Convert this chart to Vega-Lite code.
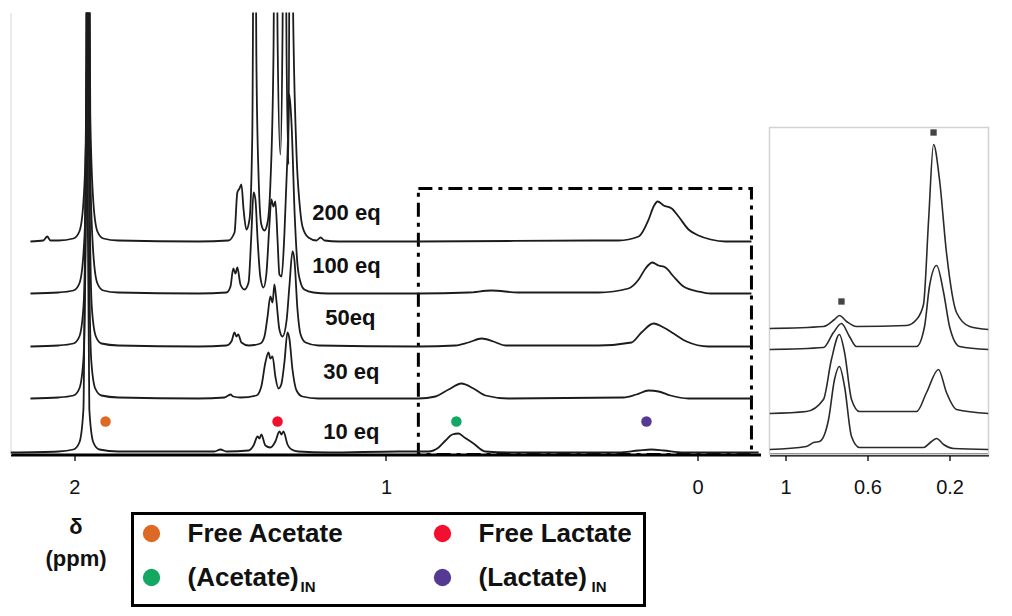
{
  "$schema": "https://vega.github.io/schema/vega-lite/v6.json",
  "padding": {"left": 10.5, "top": 12.5, "right": 5, "bottom": 5},
  "background": "white",
  "config": {
    "view": {"stroke": null},
    "font": "Liberation Sans",
    "axis": {"grid": false, "title": null}
  },
  "datasets": {
    "spectra": [
      {"s":"10","x":2.205,"y":2},{"s":"10","x":2.051,"y":3},{"s":"10","x":2.003,"y":5},{"s":"10","x":1.984,"y":12},{"s":"10","x":1.971,"y":45},{"s":"10","x":1.961,"y":383},{"s":"10","x":1.952,"y":45},{"s":"10","x":1.939,"y":12},{"s":"10","x":1.920,"y":5},{"s":"10","x":1.859,"y":3},{"s":"10","x":1.602,"y":3},{"s":"10","x":1.551,"y":3},{"s":"10","x":1.531,"y":5},{"s":"10","x":1.512,"y":3},{"s":"10","x":1.441,"y":4},{"s":"10","x":1.425,"y":9},{"s":"10","x":1.412,"y":18},{"s":"10","x":1.406,"y":16},{"s":"10","x":1.400,"y":20},{"s":"10","x":1.387,"y":9},{"s":"10","x":1.371,"y":7},{"s":"10","x":1.355,"y":13},{"s":"10","x":1.342,"y":23},{"s":"10","x":1.335,"y":20},{"s":"10","x":1.329,"y":23},{"s":"10","x":1.316,"y":10},{"s":"10","x":1.303,"y":5},{"s":"10","x":1.281,"y":3},{"s":"10","x":1.185,"y":2},{"s":"10","x":0.960,"y":3},{"s":"10","x":0.864,"y":3},{"s":"10","x":0.831,"y":7},{"s":"10","x":0.809,"y":14},{"s":"10","x":0.787,"y":20},{"s":"10","x":0.767,"y":21},{"s":"10","x":0.748,"y":17},{"s":"10","x":0.719,"y":11},{"s":"10","x":0.681,"y":3},{"s":"10","x":0.607,"y":2},{"s":"10","x":0.254,"y":2},{"s":"10","x":0.189,"y":4},{"s":"10","x":0.148,"y":5},{"s":"10","x":0.109,"y":4},{"s":"10","x":0.045,"y":2},{"s":"10","x":-0.196,"y":2},

      {"s":"30","x":2.141,"y":56},{"s":"30","x":2.051,"y":57},{"s":"30","x":2.003,"y":59},{"s":"30","x":1.984,"y":66},{"s":"30","x":1.971,"y":95},{"s":"30","x":1.965,"y":180},{"s":"30","x":1.958,"y":700},{"s":"30","x":1.952,"y":180},{"s":"30","x":1.946,"y":95},{"s":"30","x":1.933,"y":66},{"s":"30","x":1.913,"y":59},{"s":"30","x":1.859,"y":57},{"s":"30","x":1.602,"y":56},{"s":"30","x":1.518,"y":57},{"s":"30","x":1.506,"y":59},{"s":"30","x":1.499,"y":60},{"s":"30","x":1.490,"y":58},{"s":"30","x":1.467,"y":57},{"s":"30","x":1.416,"y":59},{"s":"30","x":1.400,"y":68},{"s":"30","x":1.387,"y":92},{"s":"30","x":1.377,"y":102},{"s":"30","x":1.371,"y":96},{"s":"30","x":1.364,"y":98},{"s":"30","x":1.355,"y":78},{"s":"30","x":1.345,"y":66},{"s":"30","x":1.336,"y":70},{"s":"30","x":1.326,"y":92},{"s":"30","x":1.316,"y":122},{"s":"30","x":1.310,"y":116},{"s":"30","x":1.300,"y":85},{"s":"30","x":1.287,"y":64},{"s":"30","x":1.268,"y":58},{"s":"30","x":1.217,"y":56},{"s":"30","x":0.896,"y":56},{"s":"30","x":0.841,"y":58},{"s":"30","x":0.799,"y":65},{"s":"30","x":0.758,"y":71},{"s":"30","x":0.719,"y":66},{"s":"30","x":0.681,"y":59},{"s":"30","x":0.607,"y":56},{"s":"30","x":0.238,"y":57},{"s":"30","x":0.196,"y":60},{"s":"30","x":0.157,"y":64},{"s":"30","x":0.125,"y":63},{"s":"30","x":0.087,"y":59},{"s":"30","x":0.029,"y":56},{"s":"30","x":-0.173,"y":56},

      {"s":"50","x":2.141,"y":108},{"s":"50","x":2.051,"y":109},{"s":"50","x":2.003,"y":111},{"s":"50","x":1.984,"y":118},{"s":"50","x":1.971,"y":147},{"s":"50","x":1.963,"y":232},{"s":"50","x":1.957,"y":700},{"s":"50","x":1.950,"y":232},{"s":"50","x":1.944,"y":147},{"s":"50","x":1.931,"y":118},{"s":"50","x":1.913,"y":111},{"s":"50","x":1.859,"y":109},{"s":"50","x":1.602,"y":108},{"s":"50","x":1.512,"y":109},{"s":"50","x":1.496,"y":113},{"s":"50","x":1.486,"y":122},{"s":"50","x":1.480,"y":118},{"s":"50","x":1.474,"y":120},{"s":"50","x":1.464,"y":112},{"s":"50","x":1.441,"y":109},{"s":"50","x":1.403,"y":111},{"s":"50","x":1.390,"y":118},{"s":"50","x":1.380,"y":138},{"s":"50","x":1.371,"y":158},{"s":"50","x":1.364,"y":152},{"s":"50","x":1.358,"y":170},{"s":"50","x":1.352,"y":155},{"s":"50","x":1.342,"y":125},{"s":"50","x":1.332,"y":118},{"s":"50","x":1.319,"y":134},{"s":"50","x":1.310,"y":168},{"s":"50","x":1.300,"y":203},{"s":"50","x":1.294,"y":195},{"s":"50","x":1.284,"y":145},{"s":"50","x":1.274,"y":120},{"s":"50","x":1.258,"y":112},{"s":"50","x":1.217,"y":109},{"s":"50","x":0.896,"y":108},{"s":"50","x":0.777,"y":109},{"s":"50","x":0.735,"y":112},{"s":"50","x":0.693,"y":116},{"s":"50","x":0.655,"y":113},{"s":"50","x":0.616,"y":109},{"s":"50","x":0.318,"y":109},{"s":"50","x":0.212,"y":112},{"s":"50","x":0.180,"y":122},{"s":"50","x":0.141,"y":131},{"s":"50","x":0.109,"y":127},{"s":"50","x":0.077,"y":121},{"s":"50","x":0.035,"y":113},{"s":"50","x":-0.035,"y":108},{"s":"50","x":-0.173,"y":108},

      {"s":"100","x":2.141,"y":161},{"s":"100","x":2.051,"y":162},{"s":"100","x":2.003,"y":164},{"s":"100","x":1.984,"y":171},{"s":"100","x":1.971,"y":200},{"s":"100","x":1.961,"y":285},{"s":"100","x":1.955,"y":700},{"s":"100","x":1.949,"y":285},{"s":"100","x":1.939,"y":200},{"s":"100","x":1.926,"y":171},{"s":"100","x":1.907,"y":164},{"s":"100","x":1.859,"y":162},{"s":"100","x":1.602,"y":161},{"s":"100","x":1.512,"y":162},{"s":"100","x":1.499,"y":168},{"s":"100","x":1.490,"y":186},{"s":"100","x":1.483,"y":181},{"s":"100","x":1.477,"y":187},{"s":"100","x":1.467,"y":170},{"s":"100","x":1.454,"y":165},{"s":"100","x":1.441,"y":172},{"s":"100","x":1.432,"y":220},{"s":"100","x":1.425,"y":262},{"s":"100","x":1.419,"y":255},{"s":"100","x":1.412,"y":215},{"s":"100","x":1.403,"y":177},{"s":"100","x":1.393,"y":167},{"s":"100","x":1.384,"y":180},{"s":"100","x":1.374,"y":230},{"s":"100","x":1.368,"y":255},{"s":"100","x":1.361,"y":248},{"s":"100","x":1.355,"y":253},{"s":"100","x":1.348,"y":215},{"s":"100","x":1.342,"y":180},{"s":"100","x":1.335,"y":178},{"s":"100","x":1.326,"y":220},{"s":"100","x":1.316,"y":300},{"s":"100","x":1.310,"y":360},{"s":"100","x":1.303,"y":330},{"s":"100","x":1.293,"y":240},{"s":"100","x":1.284,"y":190},{"s":"100","x":1.274,"y":172},{"s":"100","x":1.262,"y":165},{"s":"100","x":1.233,"y":162},{"s":"100","x":1.185,"y":161},{"s":"100","x":0.896,"y":161},{"s":"100","x":0.735,"y":162},{"s":"100","x":0.661,"y":164},{"s":"100","x":0.575,"y":162},{"s":"100","x":0.318,"y":162},{"s":"100","x":0.222,"y":166},{"s":"100","x":0.189,"y":175},{"s":"100","x":0.167,"y":186},{"s":"100","x":0.145,"y":192},{"s":"100","x":0.125,"y":189},{"s":"100","x":0.103,"y":187},{"s":"100","x":0.077,"y":178},{"s":"100","x":0.045,"y":168},{"s":"100","x":-0.003,"y":163},{"s":"100","x":-0.042,"y":161},{"s":"100","x":-0.173,"y":161},

      {"s":"200","x":2.141,"y":213},{"s":"200","x":2.100,"y":214},{"s":"200","x":2.087,"y":218},{"s":"200","x":2.077,"y":214},{"s":"200","x":2.051,"y":214},{"s":"200","x":2.003,"y":216},{"s":"200","x":1.984,"y":223},{"s":"200","x":1.971,"y":252},{"s":"200","x":1.961,"y":340},{"s":"200","x":1.955,"y":700},{"s":"200","x":1.949,"y":340},{"s":"200","x":1.939,"y":252},{"s":"200","x":1.926,"y":223},{"s":"200","x":1.907,"y":216},{"s":"200","x":1.859,"y":214},{"s":"200","x":1.602,"y":213},{"s":"200","x":1.506,"y":214},{"s":"200","x":1.486,"y":222},{"s":"200","x":1.477,"y":262},{"s":"200","x":1.470,"y":266},{"s":"200","x":1.464,"y":270},{"s":"200","x":1.457,"y":245},{"s":"200","x":1.448,"y":225},{"s":"200","x":1.438,"y":235},{"s":"200","x":1.429,"y":320},{"s":"200","x":1.422,"y":700},{"s":"200","x":1.416,"y":400},{"s":"200","x":1.409,"y":280},{"s":"200","x":1.400,"y":230},{"s":"200","x":1.390,"y":224},{"s":"200","x":1.380,"y":232},{"s":"200","x":1.371,"y":270},{"s":"200","x":1.361,"y":400},{"s":"200","x":1.355,"y":700},{"s":"200","x":1.348,"y":420},{"s":"200","x":1.339,"y":300},{"s":"200","x":1.332,"y":420},{"s":"200","x":1.326,"y":700},{"s":"200","x":1.319,"y":400},{"s":"200","x":1.313,"y":290},{"s":"200","x":1.307,"y":700},{"s":"200","x":1.297,"y":420},{"s":"200","x":1.287,"y":300},{"s":"200","x":1.277,"y":250},{"s":"200","x":1.268,"y":228},{"s":"200","x":1.249,"y":217},{"s":"200","x":1.223,"y":214},{"s":"200","x":1.210,"y":217},{"s":"200","x":1.197,"y":214},{"s":"200","x":1.152,"y":213},{"s":"200","x":0.896,"y":213},{"s":"200","x":0.318,"y":214},{"s":"200","x":0.254,"y":214},{"s":"200","x":0.189,"y":218},{"s":"200","x":0.157,"y":235},{"s":"200","x":0.141,"y":248},{"s":"200","x":0.128,"y":253},{"s":"200","x":0.109,"y":249},{"s":"200","x":0.083,"y":246},{"s":"200","x":0.061,"y":238},{"s":"200","x":0.029,"y":225},{"s":"200","x":-0.003,"y":219},{"s":"200","x":-0.042,"y":215},{"s":"200","x":-0.090,"y":213},{"s":"200","x":-0.173,"y":213}
    ],
    "inset": [
      {"s":"A","x":1.078,"y":126},{"s":"A","x":0.815,"y":128},{"s":"A","x":0.761,"y":135},{"s":"A","x":0.737,"y":139},{"s":"A","x":0.702,"y":133},{"s":"A","x":0.654,"y":128},{"s":"A","x":0.410,"y":129},{"s":"A","x":0.361,"y":135},{"s":"A","x":0.327,"y":150},{"s":"A","x":0.302,"y":235},{"s":"A","x":0.278,"y":310},{"s":"A","x":0.249,"y":275},{"s":"A","x":0.215,"y":202},{"s":"A","x":0.166,"y":142},{"s":"A","x":0.102,"y":128},{"s":"A","x":0.010,"y":125},
      {"s":"B","x":1.078,"y":105},{"s":"B","x":0.815,"y":107},{"s":"B","x":0.766,"y":122},{"s":"B","x":0.727,"y":131},{"s":"B","x":0.688,"y":118},{"s":"B","x":0.654,"y":108},{"s":"B","x":0.361,"y":108},{"s":"B","x":0.322,"y":128},{"s":"B","x":0.298,"y":168},{"s":"B","x":0.263,"y":189},{"s":"B","x":0.229,"y":162},{"s":"B","x":0.200,"y":128},{"s":"B","x":0.151,"y":108},{"s":"B","x":0.010,"y":105},
      {"s":"C","x":1.078,"y":41},{"s":"C","x":0.898,"y":43},{"s":"C","x":0.815,"y":55},{"s":"C","x":0.776,"y":95},{"s":"C","x":0.737,"y":120},{"s":"C","x":0.712,"y":102},{"s":"C","x":0.678,"y":55},{"s":"C","x":0.639,"y":43},{"s":"C","x":0.361,"y":43},{"s":"C","x":0.312,"y":62},{"s":"C","x":0.254,"y":85},{"s":"C","x":0.215,"y":62},{"s":"C","x":0.166,"y":45},{"s":"C","x":0.010,"y":41},
      {"s":"D","x":1.078,"y":5},{"s":"D","x":0.898,"y":8},{"s":"D","x":0.863,"y":12},{"s":"D","x":0.834,"y":13},{"s":"D","x":0.790,"y":35},{"s":"D","x":0.761,"y":75},{"s":"D","x":0.737,"y":88},{"s":"D","x":0.712,"y":68},{"s":"D","x":0.678,"y":18},{"s":"D","x":0.639,"y":7},{"s":"D","x":0.327,"y":7},{"s":"D","x":0.288,"y":13},{"s":"D","x":0.263,"y":16},{"s":"D","x":0.229,"y":10},{"s":"D","x":0.180,"y":6},{"s":"D","x":0.010,"y":5}
    ],
    "markers": [
      {"k":"Free Acetate","x":1.900,"y":33},
      {"k":"Free Lactate","x":1.348,"y":33},
      {"k":"(Acetate)IN","x":0.774,"y":33},
      {"k":"(Lactate)IN","x":0.164,"y":33}
    ],
    "labels": [
      {"t":"200 eq","x":1.127,"y":242},
      {"t":"100 eq","x":1.127,"y":189},
      {"t":"50eq","x":1.114,"y":137},
      {"t":"30 eq","x":1.111,"y":83},
      {"t":"10 eq","x":1.111,"y":23}
    ],
    "insetMarks": [
      {"x":0.278,"y":322},
      {"x":0.727,"y":153}
    ],
    "legend": [
      {"k":"Free Acetate","t":"Free Acetate","sub":"","c":1,"r":1},
      {"k":"Free Lactate","t":"Free Lactate","sub":"","c":2,"r":1},
      {"k":"(Acetate)IN","t":"(Acetate)","sub":"IN","c":1,"r":2},
      {"k":"(Lactate)IN","t":"(Lactate)","sub":"IN","c":2,"r":2}
    ],
    "delta": [
      {"t":"δ","r":1},
      {"t":"(ppm)","r":2}
    ]
  },
  "spacing": 14,
  "vconcat": [
    {
      "spacing": 8,
      "hconcat": [
        {
          "width": 750,
          "height": 442,
          "layer": [
            {
              "data": {"values": [{}]},
              "mark": {"type": "rect", "filled": false, "color": "black", "strokeWidth": 3, "strokeDash": [14, 6, 4, 6]},
              "encoding": {
                "x": {"datum": 0.896, "type": "quantitative"},
                "x2": {"datum": -0.173},
                "y": {"datum": 0, "type": "quantitative"},
                "y2": {"datum": 266}
              }
            },
            {
              "data": {"name": "spectra"},
              "mark": {"type": "line", "interpolate": "monotone", "clip": true, "color": "#1c1c1c", "strokeWidth": 1.8},
              "encoding": {
                "x": {
                  "field": "x", "type": "quantitative",
                  "scale": {"domain": [-0.202, 2.205], "reverse": true, "nice": false, "zero": false},
                  "axis": {"values": [2, 1, 0], "format": "d", "domainColor": "black", "domainWidth": 3, "tickColor": "#222", "tickWidth": 1.5, "tickSize": 6, "labelFont": "Liberation Sans Narrow, Liberation Sans", "labelFontSize": 20, "labelColor": "#111", "labelPadding": 17, "labelFlush": false, "title": null}
                },
                "y": {
                  "field": "y", "type": "quantitative",
                  "scale": {"domain": [0, 442], "nice": false, "zero": false},
                  "axis": {"domainColor": "#d8d8d8", "domainWidth": 1, "ticks": false, "labels": false, "title": null}
                },
                "detail": {"field": "s"},
                "order": {"field": "x", "sort": "descending"}
              }
            },
            {
              "data": {"name": "markers"},
              "mark": {"type": "circle", "size": 110, "opacity": 1},
              "encoding": {
                "x": {"field": "x", "type": "quantitative"},
                "y": {"field": "y", "type": "quantitative"},
                "color": {"field": "k", "type": "nominal", "scale": {"domain": ["Free Acetate", "Free Lactate", "(Acetate)IN", "(Lactate)IN"], "range": ["#DD6A24", "#F2102E", "#12A862", "#553A94"]}, "legend": null}
              }
            },
            {
              "data": {"name": "labels"},
              "mark": {"type": "text", "fontSize": 22, "fontWeight": "bold", "font": "Liberation Sans", "align": "center", "baseline": "middle", "color": "#111"},
              "encoding": {
                "x": {"field": "x", "type": "quantitative"},
                "y": {"field": "y", "type": "quantitative"},
                "text": {"field": "t"}
              }
            }
          ]
        },
        {
          "width": 219,
          "height": 442,
          "layer": [
            {
              "data": {"values": [{}]},
              "mark": {"type": "rect", "filled": false, "color": "#d2d2d2", "strokeWidth": 1.5},
              "encoding": {
                "x": {"datum": 1.078, "type": "quantitative"},
                "x2": {"datum": 0.01},
                "y": {"datum": 0, "type": "quantitative"},
                "y2": {"datum": 327}
              }
            },
            {
              "data": {"name": "inset"},
              "mark": {"type": "line", "interpolate": "monotone", "clip": true, "color": "#2a2a2a", "strokeWidth": 1.6},
              "encoding": {
                "x": {
                  "field": "x", "type": "quantitative",
                  "scale": {"domain": [0.01, 1.078], "reverse": true, "nice": false, "zero": false},
                  "axis": {"values": [1, 0.6, 0.2], "format": ".1~f", "domainColor": "black", "domainWidth": 3, "tickColor": "#222", "tickWidth": 1.5, "tickSize": 6, "labelFont": "Liberation Sans Narrow, Liberation Sans", "labelFontSize": 20, "labelColor": "#111", "labelPadding": 17, "labelFlush": false, "title": null}
                },
                "y": {
                  "field": "y", "type": "quantitative",
                  "scale": {"domain": [0, 442], "nice": false, "zero": false},
                  "axis": null
                },
                "detail": {"field": "s"},
                "order": {"field": "x", "sort": "descending"}
              }
            },
            {
              "data": {"name": "insetMarks"},
              "mark": {"type": "square", "size": 40, "opacity": 1, "color": "#444"},
              "encoding": {
                "x": {"field": "x", "type": "quantitative"},
                "y": {"field": "y", "type": "quantitative"}
              }
            }
          ]
        }
      ]
    },
    {
      "spacing": 0,
      "hconcat": [
        {
          "width": 120,
          "height": 92,
          "data": {"name": "delta"},
          "mark": {"type": "text", "fontSize": 22, "fontWeight": "bold", "font": "Liberation Sans", "dx": 5.5, "color": "#111"},
          "encoding": {
            "y": {"field": "r", "type": "ordinal", "scale": {"type": "point", "range": [13, 45], "padding": 0}, "axis": null},
            "text": {"field": "t"}
          }
        },
        {
          "width": 512,
          "height": 92,
          "view": {"stroke": "black", "strokeWidth": 3},
          "data": {"name": "legend"},
          "encoding": {
            "x": {"field": "c", "type": "ordinal", "scale": {"type": "point", "range": [19, 310], "padding": 0}, "axis": null},
            "y": {"field": "r", "type": "ordinal", "scale": {"type": "point", "range": [20, 64], "padding": 0}, "axis": null}
          },
          "layer": [
            {
              "mark": {"type": "circle", "size": 300, "opacity": 1},
              "encoding": {
                "color": {"field": "k", "type": "nominal", "scale": {"domain": ["Free Acetate", "Free Lactate", "(Acetate)IN", "(Lactate)IN"], "range": ["#DD6A24", "#F2102E", "#12A862", "#553A94"]}, "legend": null}
              }
            },
            {
              "mark": {"type": "text", "align": "left", "dx": 36, "fontSize": 26, "fontWeight": "bold", "font": "Liberation Sans", "color": "#111"},
              "encoding": {"text": {"field": "t"}}
            },
            {
              "mark": {"type": "text", "align": "left", "dx": 149, "dy": 9, "fontSize": 15, "fontWeight": "bold", "font": "Liberation Sans", "color": "#111"},
              "encoding": {"text": {"field": "sub"}}
            }
          ]
        }
      ]
    }
  ]
}
